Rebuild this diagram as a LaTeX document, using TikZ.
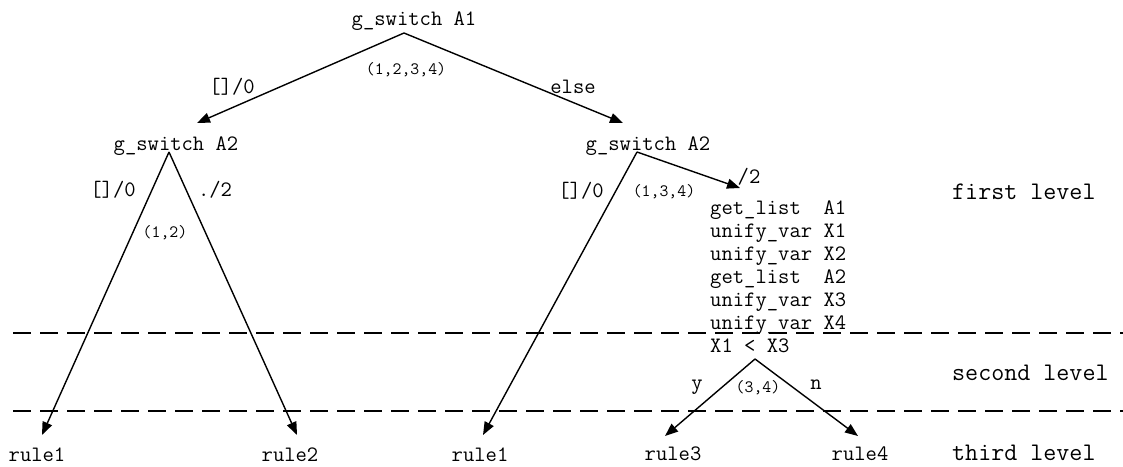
\documentclass[tikz,border=0pt]{standalone}
\usepackage{fontspec}
\usetikzlibrary{arrows.meta}
\tikzset{
  main/.style={font=\ttfamily\fontsize{22}{26}\selectfont, inner sep=0pt, anchor=base},
  small/.style={font=\ttfamily\fontsize{17.3}{20}\selectfont, inner sep=0pt, anchor=base},
  lvl/.style={font=\ttfamily\fontsize{25.3}{28}\selectfont, inner sep=0pt, anchor=base west},
  lst/.style={font=\ttfamily\fontsize{22}{26}\selectfont, inner sep=0pt, anchor=base west},
  edge/.style={line width=1.4pt, line join=miter},
  arr/.style={edge, -{Triangle[length=13pt,width=10pt]}},
  sep/.style={line width=1.4pt, dash pattern=on 18pt off 9pt}
}
\begin{document}
\begin{tikzpicture}[x=1pt,y=-1pt]
\useasboundingbox (0,0) rectangle (1123,466);
% nodes
\node[main] (root) at (414,25) {g\_switch A1};
\node[main] (a2l) at (176,150) {g\_switch A2};
\node[main] (a2r) at (648,150) {g\_switch A2};
\node[main] (r1a) at (37,461) {rule1};
\node[main] (r2) at (290,461) {rule2};
\node[main] (r1b) at (480,461) {rule1};
\node[main] (r3) at (673,460) {rule3};
\node[main] (r4) at (860,460) {rule4};
% list
\node[lst] (l1) at (710,214) {get\_list\ \ A1};
\node[lst] (l2) at (710,237) {unify\_var X1};
\node[lst] (l3) at (710,260) {unify\_var X2};
\node[lst] (l4) at (710,283) {get\_list\ \ A2};
\node[lst] (l5) at (710,306) {unify\_var X3};
\node[lst] (l6) at (710,329) {unify\_var X4};
\node[lst] (l7) at (710,352) {X1 < X3};
% level labels
\node[lvl] (lv1) at (952,199) {first level};
\node[lvl] (lv2) at (952,380) {second level};
\node[lvl] (lv3) at (952,460) {third level};
% edge labels
\node[small] (c1234) at (406,74) {(1,2,3,4)};
\node[main] (e1) at (232,93) {[]/0};
\node[main] (e2) at (573,93) {else};
\node[main] (e3) at (113,196) {[]/0};
\node[main] (e4) at (215,196) {./2};
\node[small] (c12) at (165,237) {(1,2)};
\node[main] (e5) at (749,183) {/2};
\node[main] (e6) at (581,197) {[]/0};
\node[small] (c134) at (664,196) {(1,3,4)};
\node[main] (ey) at (697,389) {y};
\node[main] (en) at (816,389) {n};
\node[small] (c34) at (758,392) {(3,4)};
% connection points
\coordinate (v0) at (404,33);
\coordinate (v1) at (169,152);
\coordinate (v2) at (637,152);
\coordinate (v3) at (755,359);
\coordinate (t1) at (197,123);
\coordinate (t2) at (623,123);
\coordinate (t3) at (740,188);
\coordinate (t4) at (42,435);
\coordinate (t5) at (297,435);
\coordinate (t6) at (483,435);
\coordinate (t7) at (665,436);
\coordinate (t8) at (858,436);
% separators
\coordinate (s1a) at (13,333); \coordinate (s1b) at (1123,333);
\coordinate (s2a) at (13,411); \coordinate (s2b) at (1123,411);
\draw[sep] (s1a) -- (s1b);
\draw[sep] (s2a) -- (s2b);
% edges
\draw[arr] (v0) -- (t1);
\draw[arr] (v0) -- (t2);
\draw[arr] (v1) -- (t4);
\draw[arr] (v1) -- (t5);
\draw[arr] (v2) -- (t6);
\draw[arr] (v2) -- (t3);
\draw[arr] (v3) -- (t7);
\draw[arr] (v3) -- (t8);
\end{tikzpicture}
\end{document}
